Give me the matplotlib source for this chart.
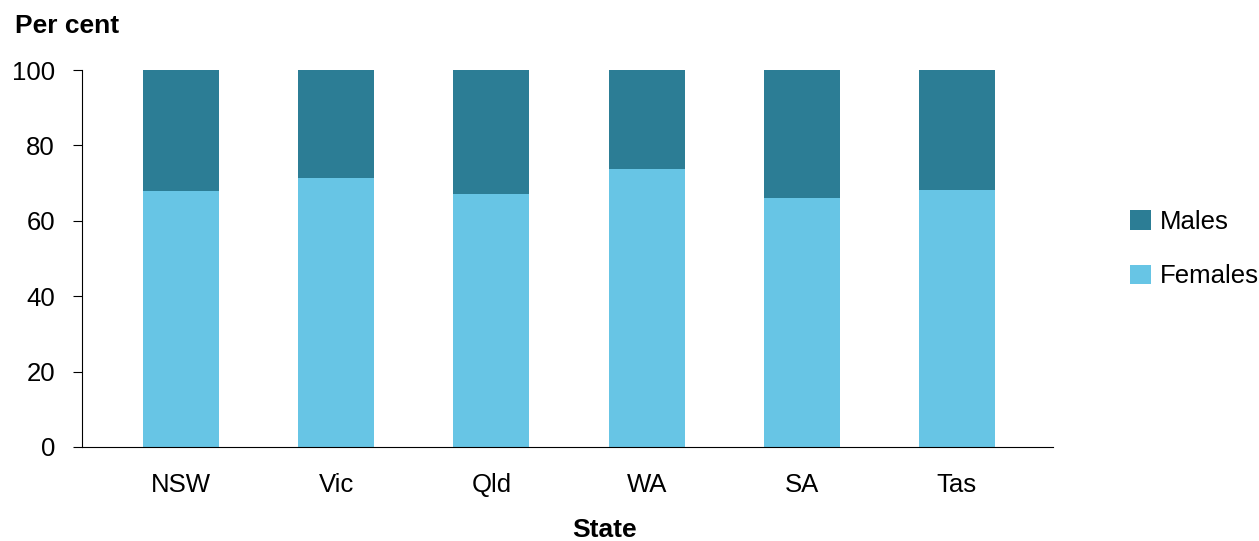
import numpy as np
import matplotlib.pyplot as plt

plt.rcParams['font.family'] = ['Liberation Sans', 'DejaVu Sans']

states = ['NSW', 'Vic', 'Qld', 'WA', 'SA', 'Tas']
females = [67.8, 71.4, 67.1, 73.7, 66.1, 68.2]
males = [100 - f for f in females]

MALE_COL = '#2C7D95'
FEMALE_COL = '#67C5E5'

fig = plt.figure(figsize=(12.59, 5.41), dpi=100)
ax = fig.add_axes([82/1259, 1 - 447/541, (1053-82)/1259, (447-70)/541])

x = np.arange(len(states))
ax.bar(x, females, width=0.49, color=FEMALE_COL, label='Females')
ax.bar(x, males, width=0.49, bottom=females, color=MALE_COL, label='Males')

ax.set_xlim(-0.64, 5.62)
ax.set_ylim(0, 100)
ax.set_yticks(range(0, 101, 20))
ax.set_xticks(x)
ax.set_xticklabels(states)
ax.tick_params(axis='y', labelsize=18.5, length=6.5, color='black', pad=13)
ax.tick_params(axis='x', labelsize=18.5, length=0, pad=18.5)
for s in ['top', 'right']:
    ax.spines[s].set_visible(False)

# axis titles
ax.set_xlabel('State', fontsize=19, fontweight='bold', labelpad=15)
ax.xaxis.label.set_x((605-82)/971)
fig.text(15/1259, 1 - 26/541, 'Per cent', fontsize=19, fontweight='bold', va='center', ha='left')

# legend on the right, males on top
handles, labels = ax.get_legend_handles_labels()
fig.legend(handles[::-1], labels[::-1], loc='center left', bbox_to_anchor=(1130/1259, 1 - 249/541),
           frameon=False, fontsize=18.5, handlelength=0.82, handleheight=0.82,
           handletextpad=0.35, labelspacing=1.2, borderpad=0, borderaxespad=0)

fig.savefig('out.png', dpi=100)
